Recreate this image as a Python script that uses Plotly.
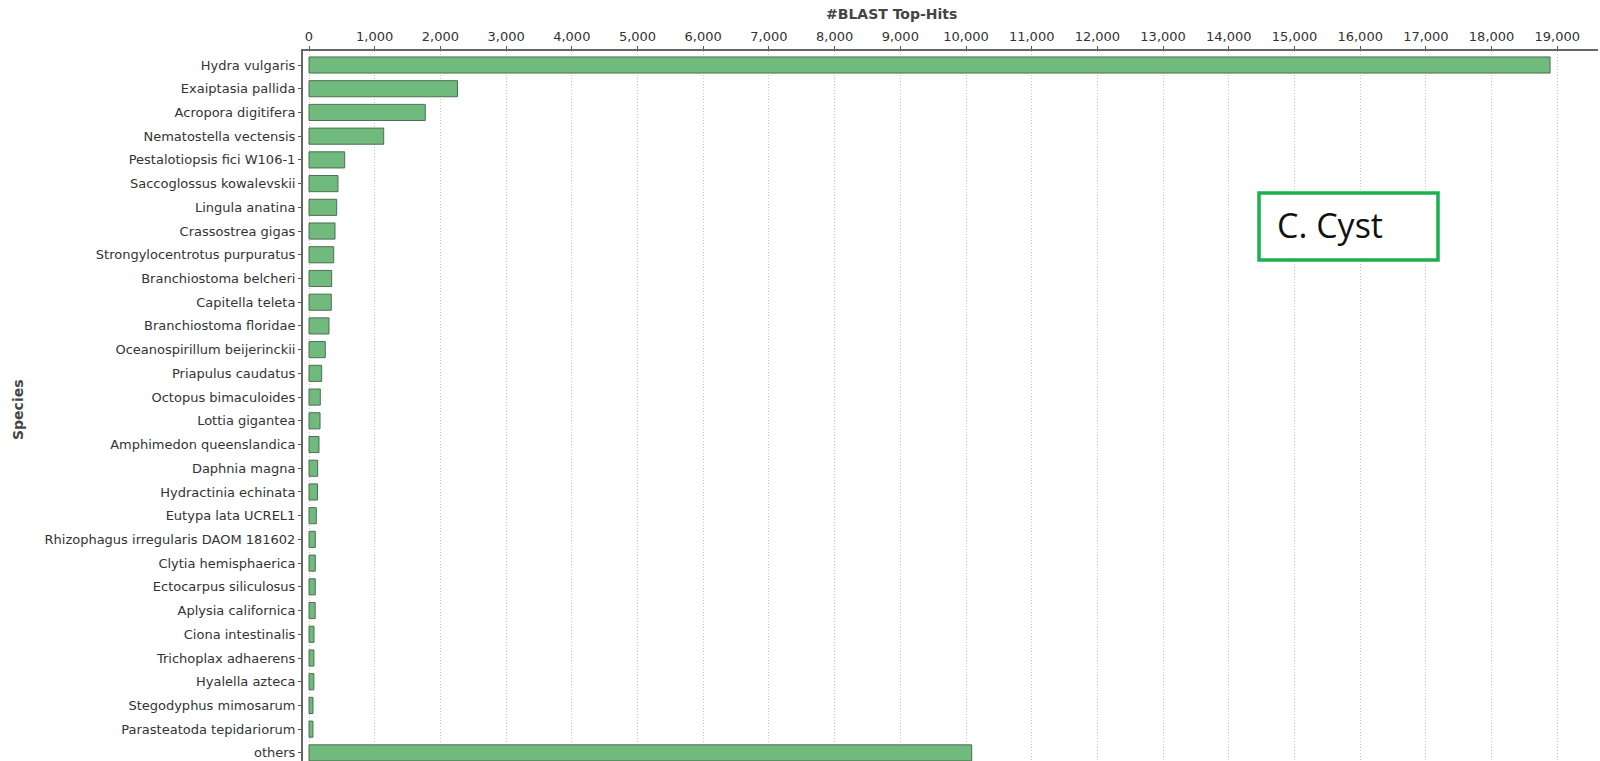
import plotly.graph_objects as go

# BLAST top-hit counts per species
species = [
    "Hydra vulgaris", "Exaiptasia pallida", "Acropora digitifera", "Nematostella vectensis",
    "Pestalotiopsis fici W106-1", "Saccoglossus kowalevskii", "Lingula anatina",
    "Crassostrea gigas", "Strongylocentrotus purpuratus", "Branchiostoma belcheri",
    "Capitella teleta", "Branchiostoma floridae", "Oceanospirillum beijerinckii",
    "Priapulus caudatus", "Octopus bimaculoides", "Lottia gigantea",
    "Amphimedon queenslandica", "Daphnia magna", "Hydractinia echinata",
    "Eutypa lata UCREL1", "Rhizophagus irregularis DAOM 181602", "Clytia hemisphaerica",
    "Ectocarpus siliculosus", "Aplysia californica", "Ciona intestinalis",
    "Trichoplax adhaerens", "Hyalella azteca", "Stegodyphus mimosarum",
    "Parasteatoda tepidariorum", "others",
]
hits = [
    18890, 2260, 1770, 1137, 543, 441, 421, 396, 376, 345, 339, 304, 248,
    193, 172, 168, 152, 132, 130, 111, 96, 96, 95, 94, 76, 75, 74, 61, 60, 10087,
]
tick_values = list(range(0, 20000, 1000))

W, H = 1600, 761
left, right, top, bottom = 303, 2, 51, 0
plot_w = W - left - right
plot_h = H - top - bottom
px_per_unit = 65.7 / 1000.0
x_start = -6 / px_per_unit
x_end = x_start + plot_w / px_per_unit

row_px = 23.72
y_top = -14 / row_px
y_bottom = y_top + plot_h / row_px

fig = go.Figure(
    go.Bar(
        x=hits,
        y=species,
        orientation="h",
        width=0.68,
        marker=dict(color="#6fba7c", line=dict(color="#4d6e53", width=1)),
        hoverinfo="x+y",
    )
)

tick_font = dict(family="DejaVu Sans", size=13, color="#333333")

fig.update_layout(
    width=W,
    height=H,
    margin=dict(l=left, r=right, t=top, b=bottom, pad=0),
    paper_bgcolor="white",
    plot_bgcolor="white",
    showlegend=False,
    xaxis=dict(
        side="top",
        range=[x_start, x_end],
        tickvals=tick_values,
        tickformat=",",
        tickfont=tick_font,
        ticks="outside",
        ticklen=3,
        tickcolor="#555555",
        showline=True,
        linecolor="#666666",
        linewidth=2,
        showgrid=True,
        gridcolor="#c4c4c4",
        griddash="1px,2px",
        gridwidth=1,
        zeroline=False,
    ),
    yaxis=dict(
        type="category",
        categoryorder="array",
        categoryarray=species,
        range=[y_bottom, y_top],
        tickfont=tick_font,
        ticks="outside",
        ticklen=3,
        tickcolor="#555555",
        showline=True,
        linecolor="#666666",
        linewidth=2,
        showgrid=False,
        zeroline=False,
    ),
)

# axis titles
fig.add_annotation(
    text="<b>#BLAST Top-Hits</b>", xref="paper", yref="paper",
    x=(891 - left) / plot_w, y=1 + (top - 14) / plot_h,
    showarrow=False, xanchor="center", yanchor="middle",
    font=dict(family="DejaVu Sans", size=14, color="#444444"),
)
fig.add_annotation(
    text="<b>Species</b>", xref="paper", yref="paper",
    x=(18 - left) / plot_w, y=1 - (410 - top) / plot_h,
    showarrow=False, textangle=-90, xanchor="center", yanchor="middle",
    font=dict(family="DejaVu Sans", size=14, color="#444444"),
)

# sample label box
fig.add_shape(
    type="rect", xref="paper", yref="paper",
    x0=(1259 - left) / plot_w, x1=(1438 - left) / plot_w,
    y0=1 - (260 - top) / plot_h, y1=1 - (193 - top) / plot_h,
    line=dict(color="#1db04f", width=3.5), fillcolor="white",
)
fig.add_annotation(
    text="C. Cyst", xref="paper", yref="paper",
    x=(1275 - left) / plot_w, y=1 - (225 - top) / plot_h,
    showarrow=False, xanchor="left", yanchor="middle",
    font=dict(family="Open Sans", size=34, color="#111111"),
)

fig.write_html("out.html")
